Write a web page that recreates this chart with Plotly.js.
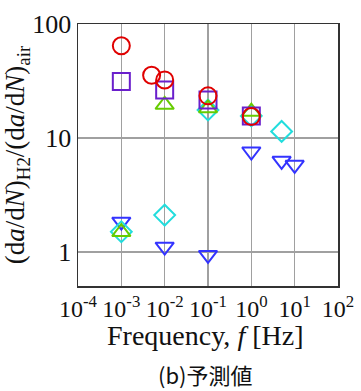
<!DOCTYPE html>
<html>
<head>
<meta charset="utf-8">
<script src="https://cdn.plot.ly/plotly-3.0.1.min.js"></script>
<style>html,body{margin:0;padding:0;background:#fff;}#chart{width:361px;height:391px;}</style>
</head>
<body>
<div id="chart"></div>
<script>
// Blue down-triangles
const blueX = [0.001, 0.01, 0.1, 1, 5, 10];
const blueY = [1.84, 1.11, 0.94, 7.6, 6.3, 5.8];
// Cyan diamonds
const cyanX = [0.001, 0.01, 0.1, 1, 5];
const cyanY = [1.5, 2.1, 17.6, 15.6, 11.4];
// Green up-triangles
const greenX = [0.001, 0.01, 0.1, 1];
const greenY = [1.49, 19.5, 18.2, 17.0];
// Purple squares
const purpleX = [0.001, 0.01, 0.1, 1];
const purpleY = [31.2, 26.4, 21.5, 15.6];
// Red circles
const redX = [0.001, 0.005, 0.01, 0.1, 1];
const redY = [64.5, 35.5, 32.3, 23.4, 15.4];

const xTickVals = [1e-4, 1e-3, 1e-2, 1e-1, 1, 10, 100];
const xTickText = ['10<sup>-4</sup>', '10<sup>-3</sup>', '10<sup>-2</sup>', '10<sup>-1</sup>', '10<sup>0</sup>', '10<sup>1</sup>', '10<sup>2</sup>'];
const yTickVals = [1, 10, 100];
const yTickText = ['1', '10', '100'];

function tr(x, y, sym, color, size) {
  return {x: x, y: y, type: 'scatter', mode: 'markers', showlegend: false, cliponaxis: false,
    marker: {symbol: sym, size: size, color: color, line: {color: color, width: 2}}};
}
const data = [
  tr(blueX, blueY, 'triangle-down-open', '#3333ff', 16),
  tr(cyanX, cyanY, 'diamond-open', '#22dddd', 16),
  tr(greenX, greenY, 'triangle-up-open', '#66cc00', 16),
  tr(purpleX, purpleY, 'square-open', '#6a1fcc', 17),
  tr(redX, redY, 'circle-open', '#e00000', 17)
];
const serif = 'Liberation Serif, Times New Roman, serif';
const layout = {
  width: 361, height: 391,
  margin: {l: 78, r: 23, t: 24, b: 105},
  paper_bgcolor: '#fff', plot_bgcolor: '#fff',
  font: {family: serif, color: '#111', size: 22},
  xaxis: {type: 'log', range: [-4, 2], tickvals: xTickVals, ticktext: xTickText, tickangle: 0,
    showgrid: true, gridcolor: '#a0a0a0', gridwidth: 1.5, showline: true, linecolor: '#333', linewidth: 1.5, mirror: true,
    ticks: '', ticklabelstandoff: 1, zeroline: false, tickfont: {size: 24, family: serif}, automargin: false},
  yaxis: {type: 'log', range: [-0.3, 2], tickvals: yTickVals, ticktext: yTickText,
    showgrid: true, gridcolor: '#a0a0a0', gridwidth: 1.5, showline: true, linecolor: '#333', linewidth: 1.5, mirror: true,
    ticks: '', zeroline: false, tickfont: {size: 26, family: serif}, automargin: false,
    title: {text: '(d<i>a</i>/d<i>N</i>)<sub>H2</sub>/(d<i>a</i>/d<i>N</i>)<sub>air</sub>', font: {size: 27, family: serif}, standoff: 2}},
  annotations: [
    {text: 'Frequency, <i>f</i> [Hz]', xref: 'paper', yref: 'paper', x: 0.49, y: -0.19, xanchor: 'center', yanchor: 'middle',
      showarrow: false, font: {family: serif, size: 28, color: '#111'}},
    {text: '(b)予測値', xref: 'paper', yref: 'paper', x: 0.49, y: -0.336, xanchor: 'center', yanchor: 'middle',
      showarrow: false, font: {family: 'Noto Sans CJK JP, sans-serif', size: 22, color: '#111'}}]
};
Plotly.newPlot('chart', data, layout, {staticPlot: true, displayModeBar: false});
</script>
</body>
</html>
